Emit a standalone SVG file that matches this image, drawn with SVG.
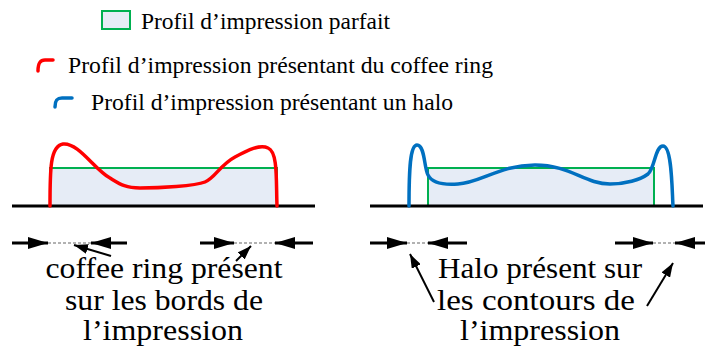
<svg xmlns="http://www.w3.org/2000/svg" width="705" height="363" viewBox="0 0 705 363">
<style>
text{font-family:"Liberation Serif","Times New Roman",serif;fill:#000}
.leg{font-size:24px}
.lab{font-size:29px;text-anchor:middle}
.base{stroke:#000;stroke-width:3;fill:none}
.ideal{fill:#e6ecf6;stroke:#00b050;stroke-width:2}
.red{fill:none;stroke:#ff0000;stroke-width:3.5;stroke-linecap:round;stroke-linejoin:round}
.blue{fill:none;stroke:#0070c0;stroke-width:3.5;stroke-linecap:round;stroke-linejoin:round}
.dim{stroke:#000;stroke-width:3;fill:none}
.dash{stroke:#666;stroke-width:1.2;stroke-dasharray:3 2;fill:none}
.ptr{stroke:#000;stroke-width:2;fill:none}
</style>
<defs>
<marker id="bigHead" viewBox="0 0 20 12" refX="20" refY="6" markerWidth="20" markerHeight="12" markerUnits="userSpaceOnUse" orient="auto">
<path d="M0,0 L20,6 L0,12 Z" fill="#000"/>
</marker>
<marker id="smallHead" viewBox="0 0 14 10" refX="14" refY="5" markerWidth="14" markerHeight="10" markerUnits="userSpaceOnUse" orient="auto">
<path d="M0,0 L14,5 L0,10 Z" fill="#000"/>
</marker>
</defs>
<rect width="705" height="363" fill="#fff"/>

<g id="legend-perfect">
<rect x="102" y="11" width="28" height="18" class="ideal"/>
<text class="leg" x="141" y="29" textLength="249" lengthAdjust="spacingAndGlyphs">Profil d’impression parfait</text>
</g>
<g id="legend-coffee">
<path d="M38,71 C38,63 40,60 45,60 L53,60" class="red"/>
<text class="leg" x="68" y="73" textLength="425" lengthAdjust="spacingAndGlyphs">Profil d’impression présentant du coffee ring</text>
</g>
<g id="legend-halo">
<path d="M55,107 C55,100 57,98 62,98 L72,98" class="blue"/>
<text class="leg" x="91" y="110" textLength="362" lengthAdjust="spacingAndGlyphs">Profil d’impression présentant un halo</text>
</g>

<g id="coffee-panel">
<rect x="50" y="168" width="227" height="38" class="ideal"/>
<line x1="12" y1="206" x2="315" y2="206" class="base"/>
<path d="M50,206 C50,170 50,146 63,144 C78,142 95,170 110,178 C120,184 125,188 140,188 C160,188 195,186 205,182 C215,178 220,165 235,157 C248,150 260,144 268,148 C278,152 276,180 277,206" class="red"/>
</g>

<g id="halo-panel">
<rect x="428" y="168" width="226" height="38" class="ideal"/>
<line x1="370" y1="206" x2="703" y2="206" class="base"/>
<path d="M409,206 C409,170 410,145 417,145 C425,145 424,168 428,175 C432,183 445,185 458,184 C480,183 500,165 535,165 C570,165 585,184 610,184 C625,184 640,180 648,174 C655,168 655,146 663,146 C672,146 672,190 673,206" class="blue"/>
</g>

<g id="connectors">
<line x1="12" y1="243" x2="48" y2="243" class="dim" marker-end="url(#bigHead)"/>
<line x1="48" y1="243" x2="91" y2="243" class="dash"/>
<line x1="127" y1="243" x2="91" y2="243" class="dim" marker-end="url(#bigHead)"/>
<line x1="200" y1="243" x2="234" y2="243" class="dim" marker-end="url(#bigHead)"/>
<line x1="234" y1="243" x2="275" y2="243" class="dash"/>
<line x1="313" y1="243" x2="275" y2="243" class="dim" marker-end="url(#bigHead)"/>
<line x1="370" y1="243" x2="407" y2="243" class="dim" marker-end="url(#bigHead)"/>
<line x1="407" y1="243" x2="428" y2="243" class="dash"/>
<line x1="467" y1="243" x2="428" y2="243" class="dim" marker-end="url(#bigHead)"/>
<line x1="615" y1="243" x2="653" y2="243" class="dim" marker-end="url(#bigHead)"/>
<line x1="653" y1="243" x2="675" y2="243" class="dash"/>
<line x1="705" y1="243" x2="675" y2="243" class="dim" marker-end="url(#bigHead)"/>
<line x1="111" y1="256" x2="74" y2="245" class="ptr" marker-end="url(#smallHead)"/>
<line x1="236" y1="261" x2="251" y2="246" class="ptr" marker-end="url(#smallHead)"/>
<line x1="434" y1="302" x2="410" y2="254" class="ptr" marker-end="url(#smallHead)"/>
<line x1="647" y1="306" x2="673" y2="263" class="ptr" marker-end="url(#smallHead)"/>
</g>

<g id="label-coffee">
<text class="lab" x="164" y="278" textLength="237" lengthAdjust="spacingAndGlyphs">coffee ring présent</text>
<text class="lab" x="164" y="310" textLength="198" lengthAdjust="spacingAndGlyphs">sur les bords de</text>
<text class="lab" x="163" y="340" textLength="160" lengthAdjust="spacingAndGlyphs">l’impression</text>
</g>
<g id="label-halo">
<text class="lab" x="540" y="278" textLength="204" lengthAdjust="spacingAndGlyphs">Halo présent sur</text>
<text class="lab" x="536" y="310" textLength="198" lengthAdjust="spacingAndGlyphs">les contours de</text>
<text class="lab" x="540" y="340" textLength="160" lengthAdjust="spacingAndGlyphs">l’impression</text>
</g>
</svg>
